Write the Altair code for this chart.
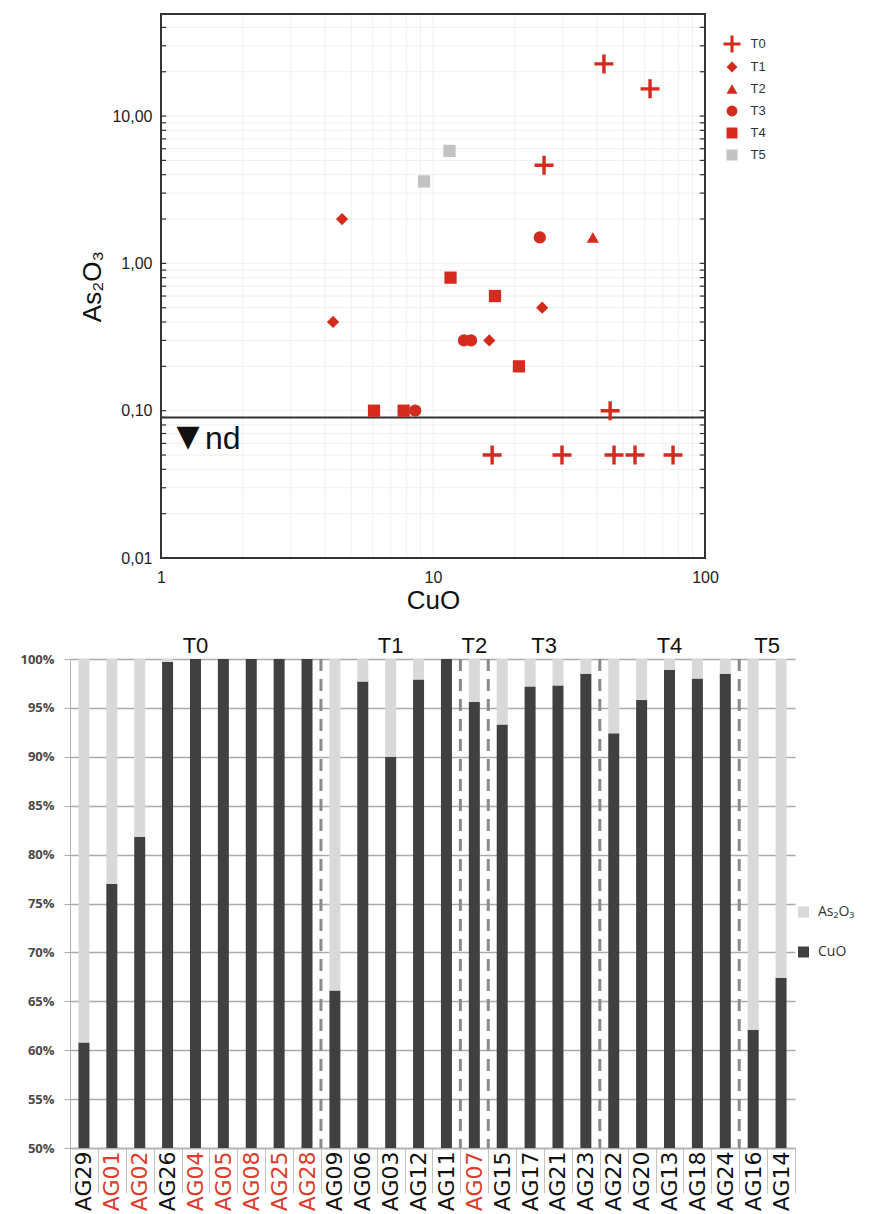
import json
import altair as alt
import pandas as pd

# ---------------- scatter data (CuO vs As2O3, log-log) ----------------
groups = ["T0", "T1", "T2", "T3", "T4", "T5"]
group_colors = ["#d42b1f", "#d42b1f", "#d42b1f", "#d42b1f", "#d42b1f", "#c2c2c2"]
cross_path = "M-1.55,-0.28H1.55V0.28H-1.55Z M-0.28,-1.55H0.28V1.55H-0.28Z"
group_shapes = [cross_path, "diamond", "triangle-up", "circle", "square", "square"]

t0_cuo = [42.5, 62.8, 25.6, 44.8, 16.5, 29.8, 46.3, 55.3, 76.3]
t0_as = [22.6, 15.3, 4.64, 0.10, 0.05, 0.05, 0.05, 0.05, 0.05]
t1_cuo = [4.63, 4.29, 25.2, 16.1]
t1_as = [2.0, 0.40, 0.50, 0.30]
t2_cuo = [38.7]
t2_as = [1.5]
t3_cuo = [24.7, 13.0, 13.8, 8.6]
t3_as = [1.5, 0.30, 0.30, 0.10]
t4_cuo = [11.6, 16.9, 20.7, 6.07, 7.8]
t4_as = [0.80, 0.60, 0.20, 0.10, 0.10]
t5_cuo = [9.27, 11.5]
t5_as = [3.6, 5.8]

nd_limit = 0.09
x_ticks = [1, 10, 100]
y_ticks = [0.01, 0.1, 1, 10]
x_grid = [2, 3, 4, 5, 6, 7, 8, 9, 10, 20, 30, 40, 50, 60, 70, 80, 90]
y_grid = [0.02, 0.03, 0.04, 0.05, 0.06, 0.07, 0.08, 0.09, 0.1,
          0.2, 0.3, 0.4, 0.5, 0.6, 0.7, 0.8, 0.9, 1,
          2, 3, 4, 5, 6, 7, 8, 9, 10, 20, 30, 40]
y_minor_ticks = [0.01] + y_grid

# ---------------- bar data (CuO / As2O3 proportions) ----------------
samples = ["AG29", "AG01", "AG02", "AG26", "AG04", "AG05", "AG08", "AG25", "AG28",
           "AG09", "AG06", "AG03", "AG12", "AG11",
           "AG07",
           "AG15", "AG17", "AG21", "AG23",
           "AG22", "AG20", "AG13", "AG18", "AG24",
           "AG16", "AG14"]
cuo_pct = [60.8, 77.0, 81.8, 99.7, 100, 100, 100, 100, 100,
           66.1, 97.7, 90.0, 97.9, 100,
           95.6,
           93.3, 97.2, 97.3, 98.5,
           92.4, 95.8, 98.9, 98.0, 98.5,
           62.1, 67.4]
red_samples = ["AG01", "AG02", "AG04", "AG05", "AG08", "AG25", "AG28", "AG07"]
group_starts = ["AG09", "AG07", "AG15", "AG22", "AG16"]
label_center_groups = ["T0", "T1", "T2", "T4"]
label_center_samples = ["AG04", "AG03", "AG07", "AG13"]
label_edge_groups = ["T3", "T5"]
label_edge_samples = ["AG17", "AG16"]
pct_ticks = [50, 55, 60, 65, 70, 75, 80, 85, 90, 95, 100]
comp_names = ["As₂O₃", "CuO"]
comp_colors = ["#d9d9d9", "#404040"]

# ---------------- build tables ----------------
rows = []
for g, xs_, ys_ in zip(groups,
                       [t0_cuo, t1_cuo, t2_cuo, t3_cuo, t4_cuo, t5_cuo],
                       [t0_as, t1_as, t2_as, t3_as, t4_as, t5_as]):
    for a, b in zip(xs_, ys_):
        rows.append({"group": g, "cuo": a, "as": b})
scatter_df = pd.DataFrame(rows)

bar_rows = []
for s, c in zip(samples, cuo_pct):
    bar_rows.append({"sample": s, "comp": "CuO", "value": c, "ord": 0})
    bar_rows.append({"sample": s, "comp": "As₂O₃", "value": round(100 - c, 2), "ord": 1})
bar_df = pd.DataFrame(bar_rows)

# ---------------- top chart ----------------
TOP_W, TOP_H = 725, 544
Y_MAX = 49.3
FONT = "Liberation Sans"

xsc = alt.Scale(type="log", domain=[1, 100], range=[91, 635])
ysc = alt.Scale(type="log", domain=[0.01, Y_MAX])

x_axis_top = alt.Axis(
    values=x_ticks, format="d", title="CuO", ticks=False, domain=False, grid=False,
    labelFont=FONT, labelFontSize=16, labelColor="#222222", labelPadding=11,
    labelFlush=False, titleFont=FONT, titleFontSize=26, titleFontWeight="normal",
    titleColor="#111111", titlePadding=2)
y_axis_top = alt.Axis(
    values=y_ticks, labelExpr="replace(format(datum.value, '.2f'), '.', ',')",
    offset=-91, title="As₂O₃", ticks=False, domain=False, grid=False,
    labelFont=FONT, labelFontSize=16, labelColor="#222222", labelPadding=9,
    labelFlush=False, titleFont=FONT, titleFontSize=26, titleFontWeight="normal",
    titleColor="#111111", titlePadding=6)


def XT(field):
    return alt.X(field, scale=xsc, axis=x_axis_top)


def YT(field):
    return alt.Y(field, scale=ysc, axis=y_axis_top)


def XTd(v):
    return alt.XDatum(v, scale=xsc, axis=x_axis_top)


def YTd(v):
    return alt.YDatum(v, scale=ysc, axis=y_axis_top)


vgrid = alt.Chart(pd.DataFrame({"v": x_grid})).mark_rule(color="#efefef", strokeWidth=1).encode(
    x=XT("v:Q"), y=YTd(0.01), y2=alt.Y2Datum(Y_MAX))
hgrid = alt.Chart(pd.DataFrame({"v": y_grid})).mark_rule(color="#efefef", strokeWidth=1).encode(
    y=YT("v:Q"), x=XTd(1), x2=alt.X2Datum(100))
lticks = alt.Chart(pd.DataFrame({"v": y_minor_ticks})).mark_rule(color="#333333", strokeWidth=1.2).encode(
    y=YT("v:Q"), x=XTd(1), x2=alt.X2Datum(1.045))
rticks = alt.Chart(pd.DataFrame({"v": y_minor_ticks})).mark_rule(color="#333333", strokeWidth=1.2).encode(
    y=YT("v:Q"), x=XTd(95.7), x2=alt.X2Datum(100))
frame = alt.Chart(pd.DataFrame({"a": [0]})).mark_rect(fillOpacity=0, stroke="#333333", strokeWidth=2).encode(
    x=XTd(1), x2=alt.X2Datum(100), y=YTd(0.01), y2=alt.Y2Datum(Y_MAX))
ndline = alt.Chart(pd.DataFrame({"a": [0]})).mark_rule(color="#333333", strokeWidth=2).encode(
    y=YTd(nd_limit), x=XTd(1), x2=alt.X2Datum(100))

top_legend = alt.Legend(title=None, orient="none", legendX=655.5, legendY=23.5,
                        symbolSize=120, symbolStrokeWidth=0, labelFont=FONT,
                        labelFontSize=13, labelColor="#333333", labelOffset=12,
                        rowPadding=8, padding=0)
points = alt.Chart(scatter_df).mark_point(filled=True, size=150, opacity=1).encode(
    x=XT("cuo:Q"),
    y=YT("as:Q"),
    color=alt.Color("group:N", scale=alt.Scale(domain=groups, range=group_colors), legend=top_legend),
    shape=alt.Shape("group:N", scale=alt.Scale(domain=groups, range=group_shapes), legend=top_legend),
)

nd_tri = alt.Chart(pd.DataFrame({"x": [1.257], "y": [0.0666], "t": ["▼"]})).mark_text(
    font="DejaVu Sans", fontSize=30, color="#111111", align="center", baseline="middle").encode(
    x=XT("x:Q"), y=YT("y:Q"), text="t:N")
nd_txt = alt.Chart(pd.DataFrame({"x": [1.45], "y": [0.0552], "t": ["nd"]})).mark_text(
    font=FONT, fontSize=32, color="#111111", align="left", baseline="alphabetic").encode(
    x=XT("x:Q"), y=YT("y:Q"), text="t:N")

top = alt.layer(vgrid, hgrid, lticks, rticks, frame, ndline, points, nd_tri, nd_txt).properties(
    width=TOP_W, height=TOP_H)

# ---------------- bottom chart ----------------
BOT_W, BOT_H = 725, 489
xband = alt.Scale(paddingInner=0, paddingOuter=0)
ypct = alt.Scale(domain=[50, 100], clamp=True)
label_color_expr = "indexof(" + json.dumps(red_samples) + ", datum.value) >= 0 ? '#dd3b2c' : '#111111'"

x_axis_bot = alt.Axis(
    title=None, labelAngle=270, labelFont="DejaVu Sans", labelFontSize=22,
    labelColor=alt.ExprRef(expr=label_color_expr), labelOverlap=False,
    tickBand="extent", tickSize=45, tickColor="#c4c4c4", tickWidth=1,
    labelPadding=-42, domainColor="#b0b0b0", domainWidth=1.5)
y_axis_bot = alt.Axis(
    title=None, values=pct_ticks, labelExpr="datum.value + '%'", grid=True,
    gridColor="#ababab", gridWidth=1.5, tickColor="#ababab", tickSize=6,
    domainColor="#b0b0b0", labelFont="Open Sans", labelFontWeight="bold",
    labelFontSize=13, labelColor="#4a4a4a", labelPadding=10)


def XB(field, bp=None):
    if bp is None:
        return alt.X(field, sort=samples, scale=xband, axis=x_axis_bot)
    return alt.X(field, sort=samples, scale=xband, axis=x_axis_bot, bandPosition=bp)


bars = alt.Chart(bar_df).mark_bar(size=11).encode(
    x=XB("sample:N"),
    y=alt.Y("value:Q", stack="zero", scale=ypct, axis=y_axis_bot),
    color=alt.Color("comp:N", scale=alt.Scale(domain=comp_names, range=comp_colors),
                    legend=alt.Legend(title=None, orient="none", legendX=726.5, legendY=246,
                                      symbolType="square", symbolSize=121, symbolStrokeWidth=0,
                                      labelFont="Open Sans", labelFontSize=14, labelColor="#333333",
                                      labelOffset=7.5, rowPadding=26, padding=0)),
    order=alt.Order("ord:Q", sort="ascending"),
)

seps = alt.Chart(pd.DataFrame({"sample": group_starts})).mark_rule(
    color="#8a8a8a", strokeWidth=3, strokeDash=[12, 8]).encode(
    x=XB("sample:N", 0),
    y=alt.YDatum(100, scale=ypct, axis=y_axis_bot), y2=alt.Y2Datum(50))

glab_c = alt.Chart(pd.DataFrame({"sample": label_center_samples, "g": label_center_groups})).mark_text(
    font=FONT, fontSize=22, color="#111111", baseline="alphabetic", dy=-6).encode(
    x=XB("sample:N"), y=alt.YDatum(100, scale=ypct, axis=y_axis_bot), text="g:N")
glab_e = alt.Chart(pd.DataFrame({"sample": label_edge_samples, "g": label_edge_groups})).mark_text(
    font=FONT, fontSize=22, color="#111111", baseline="alphabetic", dy=-6).encode(
    x=XB("sample:N", 1), y=alt.YDatum(100, scale=ypct, axis=y_axis_bot), text="g:N")

bottom = alt.layer(bars, seps, glab_c, glab_e).properties(width=BOT_W, height=BOT_H)

chart = alt.vconcat(top, bottom, spacing=22).resolve_scale(
    color="independent", shape="independent"
).resolve_legend(color="independent", shape="independent").properties(
    padding={"left": 11, "top": 5, "right": 5, "bottom": 5}
).configure_view(stroke=None)

chart.save("out.html", embed_options={"renderer": "svg", "actions": False})
